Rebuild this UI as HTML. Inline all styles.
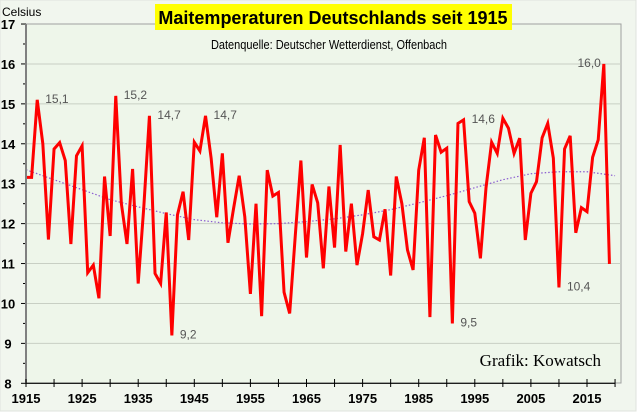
<!DOCTYPE html>
<html><head><meta charset="utf-8"><style>
body{margin:0;background:#fff;}
svg{display:block;font-family:"Liberation Sans",sans-serif;}
</style></head><body>
<svg id="chart" width="640" height="414" viewBox="0 0 640 414">
<rect x="0" y="0" width="636" height="411" fill="#f1f6ee" stroke="#dfe3dd"/>
<rect x="26" y="24" width="595" height="359" fill="#eef6ea" stroke="#a0a0a0"/>
<g id="grid"></g>
<g id="trend"></g>
<g id="series"></g>
<g id="axes"></g>
<g id="labels"></g>
<rect x="155" y="4" width="357" height="26" fill="#ffff00"/>
<text x="333" y="24" text-anchor="middle" font-size="18" font-weight="bold" fill="#000">Maitemperaturen Deutschlands seit 1915</text>
<text x="2" y="16" font-size="12" fill="#000">Celsius</text>
<text x="329" y="49" text-anchor="middle" font-size="12.5" fill="#000" transform="translate(329 0) scale(0.88 1) translate(-329 0)">Datenquelle: Deutscher Wetterdienst, Offenbach</text>
<text x="601" y="366" text-anchor="end" font-family="Liberation Serif,serif" font-size="17" fill="#000">Grafik: Kowatsch</text>
</svg>
<script>
const years = [];
for (let y = 1915; y <= 2019; y++) years.push(y);
const temps = [13.16,13.16,15.1,14.0,11.6,13.87,14.03,13.58,11.49,13.7,13.95,10.77,10.96,10.13,13.18,11.69,15.2,12.5,11.49,13.37,10.5,12.42,14.7,10.75,10.5,12.28,9.2,12.22,12.8,11.59,14.04,13.82,14.7,13.64,12.16,13.76,11.52,12.38,13.2,12.17,10.24,12.5,9.68,13.34,12.69,12.78,10.28,9.75,11.7,13.58,11.15,12.98,12.52,10.88,12.93,11.4,13.97,11.3,12.5,10.96,11.75,12.84,11.67,11.59,12.36,10.7,13.18,12.5,11.34,10.84,13.34,14.15,9.66,14.22,13.79,13.89,9.5,14.51,14.6,12.55,12.26,11.13,12.9,14.04,13.76,14.64,14.39,13.76,14.14,11.59,12.76,13.05,14.15,14.51,13.64,10.4,13.87,14.2,11.77,12.4,12.3,13.66,14.1,16.0,10.99];
const trendYears = [1915,1920,1925,1930,1935,1940,1945,1950,1955,1960,1965,1970,1975,1980,1985,1990,1995,2000,2005,2010,2015,2020];
const trendVals = [13.35,13.1,12.85,12.6,12.42,12.25,12.1,12.02,11.99,12.0,12.05,12.12,12.22,12.35,12.52,12.7,12.9,13.1,13.25,13.3,13.3,13.2];
const yTicks = [8,9,10,11,12,13,14,15,16,17];
const xTickLabels = [1915,1925,1935,1945,1955,1965,1975,1985,1995,2005,2015];
const annotations = [[1917,15.1,"15,1"],[1931,15.2,"15,2"],[1937,14.7,"14,7"],[1947,14.7,"14,7"],[1941,9.2,"9,2"],[1991,9.5,"9,5"],[1993,14.6,"14,6"],[2010,10.4,"10,4"],[2018,16.0,"16,0"]];

const NS = "http://www.w3.org/2000/svg";
const X = yr => 26 + (yr - 1915) * 5.61;
const Y = v => 383.3 - (v - 8) * 39.92;
function mk(tag, attrs, parent){const e=document.createElementNS(NS,tag);for(const k in attrs)e.setAttribute(k,attrs[k]);parent.appendChild(e);return e;}
const grid=document.getElementById('grid'),axes=document.getElementById('axes'),series=document.getElementById('series'),trend=document.getElementById('trend'),labels=document.getElementById('labels');

yTicks.forEach(v=>{
  if(v>8&&v<17){const g=mk('line',{x1:26,x2:621,y1:Y(v),y2:Y(v),stroke:'#c8cfc4','stroke-width':1},grid);
  
  }
  const t=mk('line',{x1:21,x2:26,y1:Y(v),y2:Y(v),stroke:'#000'},axes);
  
  
  const m=mk('line',{x1:23,x2:26,y1:Y(v+0.5),y2:Y(v+0.5),stroke:'#000'},axes);
  if(v===17)m.remove();
  const tx=mk('text',{x:8,y:Y(v)+5,'font-size':13,'font-weight':'bold','text-anchor':'middle'},axes);
  tx.textContent=v;
  
  
});
mk('line',{x1:26,x2:26,y1:24,y2:383,stroke:'#808080','stroke-width':2},axes);
mk('line',{x1:26,x2:615,y1:383.3,y2:383.3,stroke:'#000','stroke-width':1.2},axes);
for(let yr=1915;yr<=2020;yr+=5){
  const t=mk('line',{x1:X(yr),x2:X(yr),y1:379,y2:387,stroke:'#000'},axes);
  
  
}
xTickLabels.forEach(yr=>{
  const tx=mk('text',{x:X(yr),y:403,'font-size':13,'font-weight':'bold','text-anchor':'middle'},axes);
  tx.textContent=yr;
  
  
});

const tp=mk('polyline',{points:trendYears.map((y,i)=>X(y)+','+Y(trendVals[i])).join(' '),fill:'none',stroke:'#8a5cd0','stroke-width':1.2,'stroke-dasharray':'1.5 2'},trend);



const sp=mk('polyline',{points:years.map((y,i)=>X(y)+','+Y(temps[i])).join(' '),fill:'none',stroke:'#ff0000','stroke-width':3,'stroke-linejoin':'miter','stroke-miterlimit':4},series);



annotations.forEach(a=>{
  const x=a[0]===2018?X(a[0])-3:X(a[0])+8;
  const tx=mk('text',{x:x,y:Y(a[1])+3,'font-size':12,fill:'#555','text-anchor':a[0]===2018?'end':'start'},labels);
  tx.textContent=a[2];
  
  
});
</script>
</body></html>
